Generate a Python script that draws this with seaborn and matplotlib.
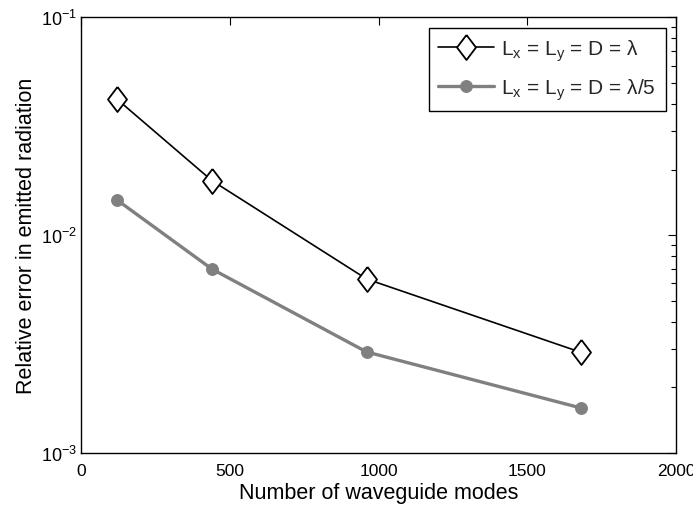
import matplotlib
matplotlib.use("Agg")
import matplotlib.pyplot as plt
import seaborn as sns
import numpy as np
import pandas as pd
from matplotlib.ticker import LogLocator, NullFormatter, FixedLocator

# ---- data ----
modes = [120, 440, 960, 1680]
err_lambda = [0.0422, 0.0178, 0.00629, 0.0029]
err_lambda5 = [0.01454, 0.00699, 0.00291, 0.00161]
label_lambda = r"L$_\mathregular{x}$ = L$_\mathregular{y}$ = D = λ"
label_lambda5 = r"L$_\mathregular{x}$ = L$_\mathregular{y}$ = D = λ/5"
xlabel = "Number of waveguide modes"
ylabel = "Relative error in emitted radiation"
xticks = [0, 500, 1000, 1500, 2000]

sns.set_theme(style="white")
plt.rcParams["font.family"] = ["Liberation Sans", "DejaVu Sans"]
plt.rcParams["mathtext.fontset"] = "custom"
plt.rcParams["mathtext.rm"] = "Liberation Sans"
plt.rcParams["mathtext.it"] = "Liberation Sans:italic"
plt.rcParams["mathtext.bf"] = "Liberation Sans:bold"

fig = plt.figure(figsize=(6.93, 5.10), dpi=100)
ax = fig.add_axes([81 / 693, 1 - 454 / 510, (676 - 81) / 693, (454 - 18.3) / 510])

df = pd.DataFrame({"modes": modes, "a": err_lambda, "b": err_lambda5})

diamond = [(0, 1), (0.76, 0), (0, -1), (-0.76, 0), (0, 1)]

sns.lineplot(data=df, x="modes", y="a", ax=ax, color="black", lw=1.2,
             marker=diamond, markersize=18, markerfacecolor="white",
             markeredgecolor="black", markeredgewidth=1.3, label=label_lambda)
sns.lineplot(data=df, x="modes", y="b", ax=ax, color="#808080", lw=2.4,
             marker="o", markersize=8.5, markerfacecolor="#808080",
             markeredgecolor="#808080", label=label_lambda5)

ax.set_yscale("log")
ax.set_xlim(0, 2000)
ax.set_ylim(1e-3, 1e-1)
ax.xaxis.set_major_locator(FixedLocator(xticks))
ax.yaxis.set_major_locator(LogLocator(base=10, numticks=10))
ax.yaxis.set_minor_locator(LogLocator(base=10, subs=np.arange(2, 10), numticks=10))
ax.yaxis.set_minor_formatter(NullFormatter())

for s in ax.spines.values():
    s.set_color("black")
    s.set_linewidth(1.0)
    s.set_visible(True)

ax.tick_params(axis="both", which="both", direction="in", top=True, right=True,
               colors="black", labelsize=12.5)
ax.tick_params(axis="x", which="major", length=6, width=0.8, pad=7)
ax.tick_params(axis="y", which="major", length=6, width=0.8, pad=3, labelsize=13)
ax.tick_params(axis="y", which="minor", length=3.5, width=0.8)
ax.tick_params(axis="x", which="minor", length=0)

ax.set_xlabel(xlabel, fontsize=15.5, color="black", labelpad=3)
ax.set_ylabel(ylabel, fontsize=15.5, color="black", labelpad=3)

leg = ax.legend(loc="upper right", fontsize=15, frameon=True, fancybox=False,
                framealpha=1, edgecolor="black", handlelength=2.7,
                handletextpad=0.35, borderpad=0.45, labelspacing=0.65,
                borderaxespad=0.5)
leg.get_frame().set_linewidth(1.0)

fig.savefig("out.png", dpi=100)
